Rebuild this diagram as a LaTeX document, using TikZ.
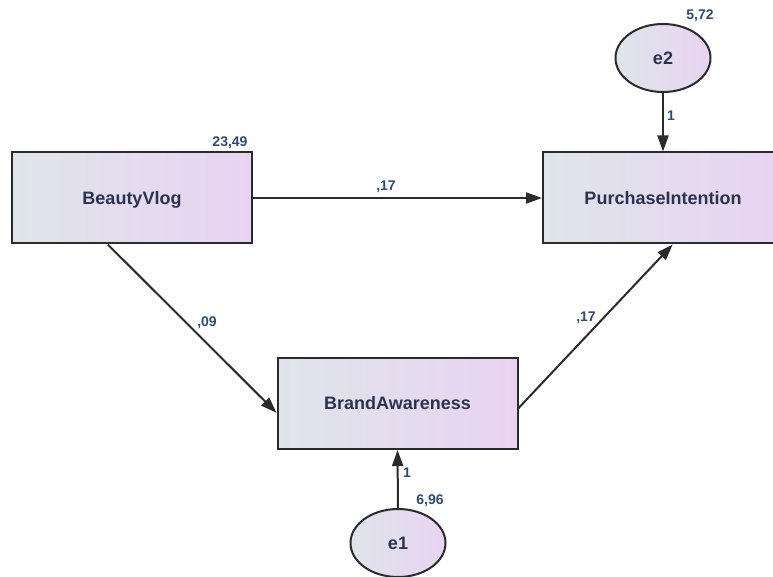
\documentclass[tikz,border=0pt]{standalone}
\usepackage{fontspec}
\setmainfont{Liberation Sans}
\usetikzlibrary{arrows.meta,calc,shapes.geometric}
\definecolor{pmInk}{HTML}{2B2B2B}
\definecolor{pmText}{HTML}{2A3350}
\definecolor{pmCoef}{HTML}{2F4A78}
\definecolor{pmLeft}{HTML}{DFE5EB}
\definecolor{pmRight}{HTML}{E9D3F2}
\newcommand{\PMType}{\fontsize{18}{20}\selectfont\bfseries}
\newcommand{\PMSmall}{\fontsize{14}{16}\selectfont\bfseries}
\tikzset{pm/base/.style={x=1pt,y=-1pt,line cap=butt,line join=miter,
  every node/.style={font=\PMType,inner sep=0pt,text=pmText}},
  pm/arrow/.style={-{Triangle[length=16pt,width=11pt]},draw=pmInk,line width=2pt},
  pm/obs/.style={draw=pmInk,line width=2pt,left color=pmLeft,right color=pmRight,
    minimum width=240pt,minimum height=91pt,text height=12.8pt,text depth=0pt},
  pm/err/.style={ellipse,draw=pmInk,line width=2pt,left color=pmLeft,right color=pmRight,
    minimum width=95pt,minimum height=68pt,text height=12.8pt,text depth=0pt},
  pm/coef/.style={font=\PMSmall,text=pmCoef}}

\begin{document}
\begin{tikzpicture}[pm/base]
  \useasboundingbox (0,0) rectangle (773,577);
  \clip (0,0) rectangle (773,577);
  \node[pm/obs] (bv) at (132,198) {BeautyVlog};
  \node[pm/obs] (pi) at (663,198) {PurchaseIntention};
  \node[pm/obs] (ba) at (397.5,403.5) {BrandAwareness};
  \node[pm/err] (e2) at (663,58) {e2};
  \node[pm/err] (e1) at (398,543) {e1};
  % variances and weights
  \node[pm/coef] (vbv) at (230,143) {23,49};
  \node[pm/coef] (ve2) at (700,16) {5,72};
  \node[pm/coef] (ve1) at (430,501) {6,96};
  \node[pm/coef] (wbp) at (386,187) {,17};
  \node[pm/coef] (wbb) at (207,323) {,09};
  \node[pm/coef] (wap) at (586,318) {,17};
  \node[pm/coef] (we2) at (671,116) {1};
  \node[pm/coef] (we1) at (407,473) {1};
  \draw[pm/arrow] (bv.east)--(pi.west);
  \draw[pm/arrow] ($(bv.south west)!.4!(bv.south east)$)--($(ba.north west)!.6!(ba.south west)$);
  \draw[pm/arrow] ($(ba.north east)!.55!(ba.south east)$)--($(pi.south west)!.54!(pi.south east)$);
  \draw[pm/arrow] (e2.south)--(pi.north);
  \draw[pm/arrow] (e1.north)--(ba.south);
\end{tikzpicture}
\end{document}
